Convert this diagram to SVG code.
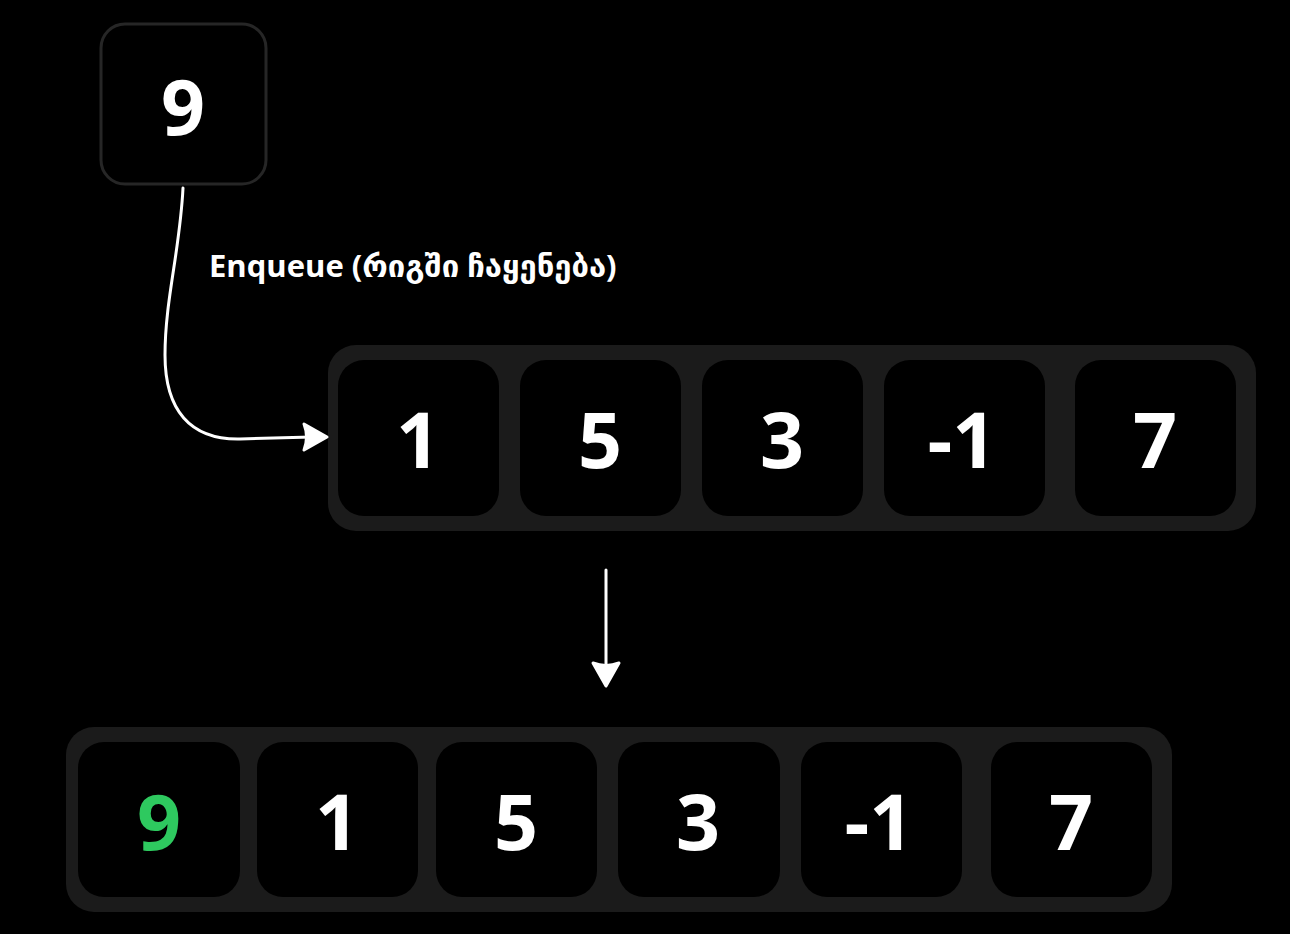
<svg xmlns="http://www.w3.org/2000/svg" width="1290" height="934" viewBox="0 0 1290 934">
<style>
.bg{fill:#000}
.tray{fill:#1b1b1b}
.cell{fill:#000}
.num{font-family:"Open Sans","Noto Sans","DejaVu Sans",sans-serif;font-weight:700;font-size:77px;fill:#fff;text-anchor:middle}
.green{fill:#2ec95f}
.lbl{font-family:"Open Sans","Noto Sans","DejaVu Sans",sans-serif;font-weight:700;font-size:31px;fill:#fff}
.conn{fill:none;stroke:#fff;stroke-width:3;stroke-linecap:round}
.head{fill:#fff;stroke:#fff;stroke-width:3;stroke-linejoin:round}
</style>
<rect class="bg" x="0" y="0" width="1290" height="934"/>

<g id="node-9-top">
<rect x="101" y="24" width="165" height="160" rx="24" fill="#000" stroke="#262626" stroke-width="3"/>
<text class="num" x="183" y="135">9</text>
</g>

<g id="queue-before">
<rect class="tray" x="328" y="345" width="928" height="186" rx="28"/>
<rect class="cell" x="338" y="360" width="161" height="156" rx="26"/>
<text class="num" x="418" y="468">1</text>
<rect class="cell" x="520" y="360" width="161" height="156" rx="26"/>
<text class="num" x="600" y="468">5</text>
<rect class="cell" x="702" y="360" width="161" height="156" rx="26"/>
<text class="num" x="782" y="468">3</text>
<rect class="cell" x="884" y="360" width="161" height="156" rx="26"/>
<text class="num" x="962" y="468">-1</text>
<rect class="cell" x="1075" y="360" width="161" height="156" rx="26"/>
<text class="num" x="1155" y="468">7</text>
</g>

<g id="queue-after">
<rect class="tray" x="66" y="727" width="1106" height="185" rx="28"/>
<rect class="cell" x="78" y="742" width="162" height="155" rx="26"/>
<text class="num green" x="159" y="850">9</text>
<rect class="cell" x="257" y="742" width="161" height="155" rx="26"/>
<text class="num" x="337" y="850">1</text>
<rect class="cell" x="436" y="742" width="161" height="155" rx="26"/>
<text class="num" x="516" y="850">5</text>
<rect class="cell" x="618" y="742" width="162" height="155" rx="26"/>
<text class="num" x="698" y="850">3</text>
<rect class="cell" x="801" y="742" width="161" height="155" rx="26"/>
<text class="num" x="879" y="850">-1</text>
<rect class="cell" x="991" y="742" width="161" height="155" rx="26"/>
<text class="num" x="1071" y="850">7</text>
</g>

<g id="connectors">
<path class="conn" d="M183,188 C180,250 165,300 165,355 C165,410 190,440 240,439 L312,437"/>
<path class="head" d="M327,437 L304,424 Q309,437 304,450 Z"/>
<path class="conn" d="M606,570 L606,670"/>
<path class="head" d="M606,686 L593,663 Q606,668 619,663 Z"/>
<text class="lbl" x="209" y="277">Enqueue (რიგში ჩაყენება)</text>
</g>
</svg>
